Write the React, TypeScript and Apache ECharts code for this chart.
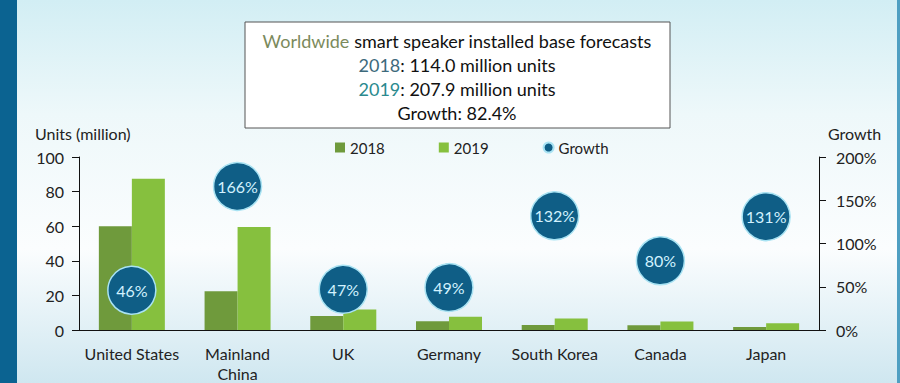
import React, { useEffect, useRef } from "react";
import * as echarts from "echarts";

const categories = ["United States", "Mainland\nChina", "UK", "Germany", "South Korea", "Canada", "Japan"];
const units2018 = [60.0, 22.4, 8.1, 5.1, 2.9, 2.7, 1.7];
const units2019 = [87.5, 59.6, 11.9, 7.6, 6.7, 4.9, 3.9];
const growth = [46, 166, 47, 49, 132, 80, 131];
const leftTicks = { min: 0, max: 100, interval: 20 };
const rightTicks = { min: 0, max: 200, interval: 50 };

const FONT = "Lato, 'Open Sans', sans-serif";

export default function App() {
  const ref = useRef<HTMLDivElement>(null);
  useEffect(() => {
    const chart = echarts.init(ref.current!, null, { renderer: "svg" });
    const boxText = (text: string, y: number, rich?: any) => ({
      type: "text",
      z: 6,
      x: 457,
      y,
      style: {
        text,
        fontSize: 18,
        fontFamily: FONT,
        fill: "#111",
        align: "center",
        verticalAlign: "middle",
        rich,
      },
    });
    chart.setOption({
      animation: false,
      textStyle: { fontFamily: FONT },
      grid: { left: 79, right: 81, top: 157, bottom: 53, containLabel: false },
      legend: {
        left: 330,
        top: 135,
        itemWidth: 10,
        itemHeight: 10,
        itemGap: 54,
        textStyle: { fontSize: 15, color: "#222", fontFamily: FONT },
        data: [
          { name: "2018", icon: "rect" },
          { name: "2019", icon: "rect" },
          { name: "Growth", icon: "circle", itemStyle: { opacity: 1 } },
        ],
      },
      graphic: [
        {
          type: "rect",
          z: -10,
          silent: true,
          shape: { x: 0, y: 0, width: 900, height: 383 },
          style: {
            fill: new echarts.graphic.LinearGradient(0, 0, 0, 1, [
              { offset: 0, color: "#d2eef4" },
              { offset: 0.3, color: "#eef8fa" },
              { offset: 0.65, color: "#fbfdfe" },
              { offset: 1, color: "#cfe7f0" },
            ]),
          },
        },
        { type: "rect", z: -9, silent: true, shape: { x: 0, y: 0, width: 17, height: 383 }, style: { fill: "#0b6391" } },
        { type: "rect", z: -9, silent: true, shape: { x: 897, y: 0, width: 3, height: 383 }, style: { fill: "#4f9fc2" } },
        {
          type: "rect",
          z: 5,
          shape: { x: 245, y: 22, width: 425, height: 106 },
          style: { fill: "#ffffff", stroke: "#555555", lineWidth: 1 },
        },
        boxText("{w|Worldwide} smart speaker installed base forecasts", 41, {
          w: { fill: "#7b8a5c", fontSize: 18, fontFamily: FONT },
        }),
        boxText("{a|2018}: 114.0 million units", 65, { a: { fill: "#3d6a7c", fontSize: 18, fontFamily: FONT } }),
        boxText("{b|2019}: 207.9 million units", 89, { b: { fill: "#2a8a8e", fontSize: 18, fontFamily: FONT } }),
        boxText("Growth: 82.4%", 113),
        {
          type: "text",
          x: 35,
          y: 133,
          style: { text: "Units (million)", fontSize: 16, fontFamily: FONT, fill: "#222", align: "left", verticalAlign: "middle" },
        },
        {
          type: "text",
          x: 828,
          y: 133,
          style: { text: "Growth", fontSize: 16, fontFamily: FONT, fill: "#222", align: "left", verticalAlign: "middle" },
        },
      ],
      xAxis: {
        type: "category",
        data: categories,
        axisLine: { show: true, lineStyle: { color: "#111", width: 1 } },
        axisTick: { show: false },
        axisLabel: { fontSize: 16, color: "#222", margin: 13, lineHeight: 20, fontFamily: FONT, interval: 0 },
      },
      yAxis: [
        {
          type: "value",
          min: leftTicks.min,
          max: leftTicks.max,
          interval: leftTicks.interval,
          splitLine: { show: false },
          axisLine: { show: true, lineStyle: { color: "#111", width: 1 } },
          axisTick: { show: true, length: 7, lineStyle: { color: "#111" } },
          axisLabel: { fontSize: 16, color: "#222", margin: 15, fontFamily: FONT },
        },
        {
          type: "value",
          position: "right",
          min: rightTicks.min,
          max: rightTicks.max,
          interval: rightTicks.interval,
          splitLine: { show: false },
          axisLine: { show: true, lineStyle: { color: "#111", width: 1 } },
          axisTick: { show: true, length: 7, lineStyle: { color: "#111" } },
          axisLabel: { fontSize: 16, color: "#222", margin: 17, formatter: "{value}%", fontFamily: FONT },
        },
      ],
      series: [
        {
          name: "2018",
          type: "bar",
          data: units2018,
          barWidth: 33,
          barGap: "0%",
          itemStyle: { color: "#6f9a3c" },
        },
        {
          name: "2019",
          type: "bar",
          data: units2019,
          barWidth: 33,
          barGap: "0%",
          itemStyle: { color: "#86c03e" },
        },
        {
          name: "Growth",
          type: "scatter",
          yAxisIndex: 1,
          data: growth,
          symbol: "circle",
          symbolSize: 48,
          z: 4,
          itemStyle: { color: "#0f5e86", opacity: 1, borderColor: "#a9e3f3", borderWidth: 1.5 },
          label: {
            show: true,
            position: "inside",
            formatter: (p: any) => p.value + "%",
            fontSize: 16,
            color: "#d2f2ff",
            fontFamily: FONT,
          },
        },
      ],
    });
    return () => chart.dispose();
  }, []);
  return <div ref={ref} style={{ position: "absolute", left: 0, top: 0, width: 900, height: 383 }} />;
}
